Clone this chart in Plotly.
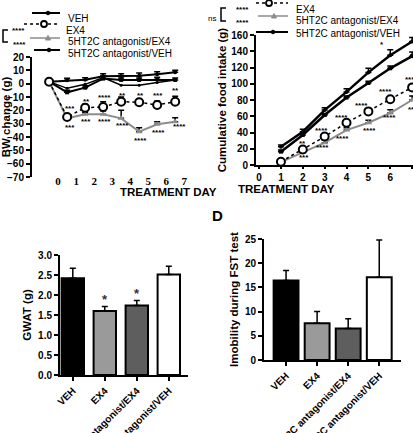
import plotly.graph_objects as go

W, H = 413, 433
SANS = 'Liberation Sans'
SERIF = 'Liberation Serif'

# %% Data
# Panel A: body weight change (g) by treatment day
days_a = [0, 1, 2, 3, 4, 5, 6, 7]
day_labels_a = ['0', '1', '2', '3', '4', '5', '6', '7']
bw_veh = [1.5, 2.5, 3, 5.5, 5.5, 6, 7, 8.5]
bw_veh_err = [0, 1.5, 1.5, 2, 2, 2, 2, 1.5]
bw_antveh = [1.5, -6.5, -3, 3.8, 2.8, 2.8, 3.3, 2.8]
bw_antveh_err = [0, 1.5, 1.5, 2, 1.5, 1.5, 1.5, 1.5]
bw_other = [1.5, -3.5, -0.5, 4.5, -1.2, -1.2, 0.8, 2.8]
bw_ex4 = [1.5, -25, -18, -17.5, -13.5, -14, -16, -13.5]
bw_ex4_err = [0, 2.5, 2.5, 4, 3.5, 2.5, 3, 4]
bw_antex4 = [1.5, -26, -23, -23, -26, -36, -30.5, -28.5]
bw_antex4_err = [0, 2, 1.5, 2.5, 6, 3, 2, 3]

# stars: (day, y, text)
stars_a = [(1.18, -18.5, '***'), (2.07, -13.7, '**'), (3.08, -10.5, '****'),
           (4.07, -8.5, '**'), (5.06, -8.7, '**'), (6.06, -8.7, '***'), (7.0, -5, '**'),
           (1.14, -33, '***'), (2.07, -28, '***'), (3.08, -28.5, '****'),
           (4.07, -31.7, '****'), (5.06, -42.5, '****'), (6.1, -36.8, '****'),
           (7.24, -32, '****')]

# Panel B: cumulative food intake (g)
days_b = [1, 2, 3, 4, 5, 6, 7]
food_veh = [22.5, 41, 67.6, 90, 114, 135, 152]
food_veh_err = [2, 3, 3, 4, 5, 7, 5]
food_antveh = [16.4, 37, 61.5, 83, 101, 119, 134]
food_antveh_err = [2, 2, 2, 2, 2, 3, 5]
food_ex4 = [4, 19, 35, 52, 66, 81, 95.5]
food_ex4_err = [1, 2, 2, 2, 2, 2, 3]
food_antex4 = [3.5, 15.6, 27.5, 43, 52, 64, 80]
food_antex4_err = [1, 2, 3, 3, 3, 4, 5]

stars_b = [(5.63, 147.7, '*'), (6.68, 165, '**'),
           (2.0, 26.7, '**'), (2.84, 43, '****'), (3.75, 58.7, '****'),
           (4.67, 73.8, '****'), (5.8, 90, '****'), (6.95, 105.5, '****'),
           (2.07, 9, '***'), (2.91, 21.3, '****'), (3.83, 32.8, '****'),
           (5.05, 43, '****'), (5.96, 58, '****'), (7.03, 67.7, '***')]

# Panels C and D: bar charts
groups = ['VEH', 'EX4', '5HT2C antagonist/EX4', '5HT2C antagonist/VEH']
bar_colors = ['black', '#9a9a9a', '#5e5e5e', 'white']
gwat = [2.42, 1.6, 1.74, 2.51]
gwat_err = [0.25, 0.11, 0.12, 0.21]
stars_c = [(1, 1.9, '*'), (2, 2.05, '*')]
fst = [16.4, 7.6, 6.5, 17.1]
fst_err = [2.1, 2.4, 2.0, 7.7]


def upper_err(vals):
    return dict(type='data', symmetric=False, array=vals, arrayminus=[0] * len(vals),
                color='black', thickness=1.5, width=3)


def px(x):
    return x / W


def py(y):
    return 1 - y / H


fig = go.Figure()

# %% Panel A lines
line_a = [
    (bw_other, None, dict(color='black', width=1.5), dict(size=3, color='black')),
    (bw_veh, bw_veh_err, dict(color='black', width=2), dict(size=4, color='black')),
    (bw_antveh, bw_antveh_err, dict(color='black', width=2), dict(size=4, color='black', symbol='square')),
    (bw_antex4, bw_antex4_err, dict(color='#8c8c8c', width=2), dict(size=6, color='#8c8c8c', symbol='triangle-up')),
    (bw_ex4, bw_ex4_err, dict(color='black', width=1.5, dash='dot'),
     dict(size=8, color='white', symbol='circle', line=dict(color='black', width=2))),
]
for vals, err, ln, mk in line_a:
    fig.add_trace(go.Scatter(x=days_a, y=vals, mode='lines+markers', line=ln, marker=mk,
                             error_y=upper_err(err) if err else None,
                             xaxis='x', yaxis='y', showlegend=False, hoverinfo='skip'))

# %% Panel B lines
line_b = [
    (food_veh, food_veh_err, dict(color='black', width=2.5), dict(size=4, color='black')),
    (food_antveh, food_antveh_err, dict(color='black', width=2.5), dict(size=4, color='black', symbol='square')),
    (food_antex4, food_antex4_err, dict(color='#8c8c8c', width=2), dict(size=6, color='#8c8c8c', symbol='triangle-up')),
    (food_ex4, food_ex4_err, dict(color='black', width=1.5, dash='dot'),
     dict(size=8, color='white', symbol='circle', line=dict(color='black', width=2))),
]
for vals, err, ln, mk in line_b:
    fig.add_trace(go.Scatter(x=days_b, y=vals, mode='lines+markers', line=ln, marker=mk,
                             error_y=upper_err(err), xaxis='x2', yaxis='y2',
                             showlegend=False, hoverinfo='skip', cliponaxis=False))

# %% Panels C and D bars
fig.add_trace(go.Bar(x=groups, y=gwat, width=0.7, marker=dict(color=bar_colors, line=dict(color='black', width=2)),
                     error_y=upper_err(gwat_err), xaxis='x3', yaxis='y3', showlegend=False))
fig.add_trace(go.Bar(x=groups, y=fst, width=0.8, marker=dict(color=bar_colors, line=dict(color='black', width=2)),
                     error_y=upper_err(fst_err), xaxis='x4', yaxis='y4', showlegend=False))

# %% Star annotations
ann = []
for xs, ys, t in stars_a:
    ann.append(dict(x=xs, y=ys, xref='x', yref='y', text=t, showarrow=False,
                    font=dict(family=SANS, size=8, color='black', weight='bold')))
for xs, ys, t in stars_b:
    ann.append(dict(x=xs, y=ys, xref='x2', yref='y2', text=t, showarrow=False,
                    font=dict(family=SANS, size=8, color='black', weight='bold')))
for xs, ys, t in stars_c:
    ann.append(dict(x=xs, y=ys, xref='x3', yref='y3', text=t, showarrow=False,
                    font=dict(family=SANS, size=13, color='#333', weight='bold')))

ann.append(dict(x=px(218), y=py(215), xref='paper', yref='paper', text='D', showarrow=False,
                font=dict(family=SANS, size=15, color='black', weight='bold')))

# x titles of the two line panels
title_font = dict(family=SANS, size=11.5, color='black', weight='bold')
ann.append(dict(x=px(118), y=py(192), xref='paper', yref='paper', text='TREATMENT DAY',
                showarrow=False, font=title_font))
ann.append(dict(x=px(337), y=py(189), xref='paper', yref='paper', text='TREATMENT DAY',
                showarrow=False, font=title_font))

# %% Hand-drawn legends (items sit closer than plotly's legend allows)
shapes = []


def legend_item(x0, x1, y_line, xm, y_text, label, kind, stars=None, xs=None):
    if kind == 'ex4':
        shapes.append(dict(type='line', xref='paper', yref='paper', x0=px(x0), x1=px(x1),
                           y0=py(y_line), y1=py(y_line), line=dict(color='black', width=1.5, dash='dot')))
        shapes.append(dict(type='circle', xref='paper', yref='paper', x0=px(xm - 3), x1=px(xm + 3),
                           y0=py(y_line - 3), y1=py(y_line + 3), fillcolor='white',
                           line=dict(color='black', width=1.8)))
    elif kind == 'antex4':
        shapes.append(dict(type='line', xref='paper', yref='paper', x0=px(x0), x1=px(x1),
                           y0=py(y_line), y1=py(y_line), line=dict(color='#8c8c8c', width=1.5)))
        shapes.append(dict(type='path', xref='paper', yref='paper',
                           path='M %f %f L %f %f L %f %f Z' % (px(xm - 2.5), py(y_line + 2), px(xm + 2.5),
                                                              py(y_line + 2), px(xm), py(y_line - 2.5)),
                           fillcolor='#8c8c8c', line=dict(color='#8c8c8c', width=1)))
    else:
        shapes.append(dict(type='line', xref='paper', yref='paper', x0=px(x0), x1=px(x1),
                           y0=py(y_line), y1=py(y_line), line=dict(color='black', width=2)))
        shapes.append(dict(type='circle', xref='paper', yref='paper', x0=px(xm - 1.8), x1=px(xm + 1.8),
                           y0=py(y_line - 1.8), y1=py(y_line + 1.8), fillcolor='black',
                           line=dict(color='black', width=1)))
    ann.append(dict(x=px(x1 + 6), y=py(y_text), xref='paper', yref='paper', xanchor='left',
                    text=label, showarrow=False, font=dict(family=SANS, size=10, color='black')))
    if stars:
        ann.append(dict(x=px(xs), y=py(y_line), xref='paper', yref='paper', xanchor='left',
                        text=stars, showarrow=False, font=dict(family=SANS, size=8, color='black', weight='bold')))


# Panel A legend
legend_item(32, 60, 13, 48, 11, 'VEH', 'veh')
legend_item(24, 58, 24, 44, 23, 'EX4', 'ex4', '****', 10)
legend_item(30, 60, 38, 48, 34, '5HT2C antagonist/EX4', 'antex4', '****', 11)
legend_item(34, 60, 50, 49, 46, '5HT2C antagonist/VEH', 'veh')
shapes.append(dict(type='path', xref='paper', yref='paper',
                   path='M %f %f L %f %f L %f %f L %f %f' % (px(8), py(30), px(3), py(30), px(3), py(42),
                                                            px(8), py(42)),
                   line=dict(color='black', width=1.5)))

# Panel B legend
legend_item(256, 288, 3, 269, 2, 'EX4', 'ex4', '****', 234)
legend_item(258, 288, 16, 274, 13, '5HT2C antagonist/EX4', 'antex4', '****', 234)
legend_item(256, 288, 32, 273, 26, '5HT2C antagonist/VEH', 'veh')
shapes.append(dict(type='path', xref='paper', yref='paper',
                   path='M %f %f L %f %f L %f %f L %f %f' % (px(226), py(8), px(221), py(8), px(221), py(21),
                                                            px(226), py(21)),
                   line=dict(color='black', width=1.5)))
ann.append(dict(x=px(206), y=py(12), xref='paper', yref='paper', xanchor='left', text='ns',
                showarrow=False, font=dict(family=SANS, size=8, color='black')))

# %% Axes
tick_font = dict(family=SANS, size=10, color='black', weight='bold')
axis_common = dict(showgrid=False, zeroline=False, linecolor='black', linewidth=2, automargin=False,
                   tickcolor='black', tickwidth=2, ticklen=4, ticks='outside')

fig.update_layout(
    width=W, height=H,
    margin=dict(l=0, r=0, t=0, b=0),
    paper_bgcolor='white', plot_bgcolor='white',
    annotations=ann, shapes=shapes,
    xaxis=dict(domain=[px(32), px(186)], range=[-0.95, 7.6], anchor='free', position=py(173),
               automargin=False, tickvals=[d + 0.5 for d in days_a], ticktext=day_labels_a,
               showgrid=False, zeroline=False, showline=False, ticks='',
               tickfont=dict(family=SERIF, size=11, color='black', weight='bold')),
    yaxis=dict(domain=[py(177), py(57)], range=[-70, 20], dtick=10, anchor='x',
               showline=True, tickfont=tick_font,
               title=dict(text='BW change (g)', font=title_font, standoff=3), **axis_common),
    xaxis2=dict(domain=[px(256), 1.0], range=[-0.14, 7.04], dtick=1, anchor='y2',
                showline=True, tickfont=tick_font, **dict(axis_common, ticklen=2)),
    yaxis2=dict(domain=[py(165), py(35)], range=[0, 160], dtick=20, anchor='x2',
                showline=True, tickfont=tick_font,
                title=dict(text='Cumulative food intake (g)', font=title_font, standoff=2), **axis_common),
    xaxis3=dict(domain=[px(60), px(188)], range=[-0.4, 3.6], anchor='y3', type='category',
                showline=True, tickangle=-45, tickfont=tick_font, **axis_common),
    yaxis3=dict(domain=[py(375), py(255)], range=[0, 3], dtick=0.5, tickformat='.1f', anchor='x3',
                showline=True, tickfont=tick_font,
                title=dict(text='GWAT (g)', font=title_font, standoff=4), **axis_common),
    xaxis4=dict(domain=[px(264), px(401)], range=[-0.71, 3.7], anchor='y4', type='category',
                showline=True, tickangle=-45, tickfont=tick_font, **axis_common),
    yaxis4=dict(domain=[py(360), py(239)], range=[0, 25], dtick=5, anchor='x4',
                showline=True, tickfont=tick_font,
                title=dict(text='Imobility during FST test', font=title_font, standoff=4), **axis_common),
)

# the page's default body margin would push the 413x433 figure off the window
fig.write_html("out.html", config={'displayModeBar': False},
               post_script="document.body.style.margin='0';")
